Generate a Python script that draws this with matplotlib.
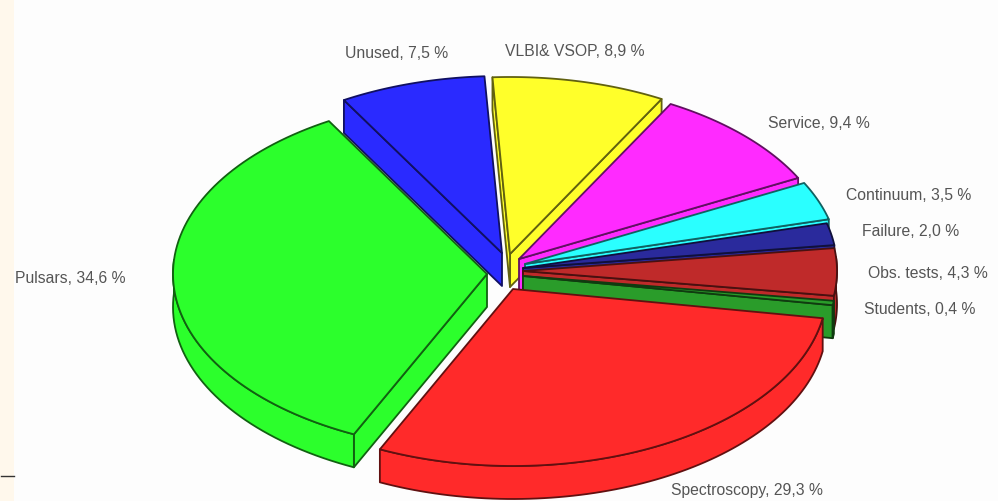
import numpy as np
import matplotlib
matplotlib.use("Agg")
import matplotlib.pyplot as plt
from matplotlib.patches import Polygon
from matplotlib.colors import to_rgb

labels = ["Spectroscopy", "Pulsars", "Unused", "VLBI& VSOP", "Service",
          "Continuum", "Failure", "Obs. tests", "Students"]
values = [29.3, 34.6, 7.5, 8.9, 9.4, 3.5, 2.0, 4.3, 0.4]
value_text = ["29,3", "34,6", "7,5", "8,9", "9,4", "3,5", "2,0", "4,3", "0,4"]
colors = ["#ff2a2a", "#2cff2c", "#2a2aff", "#ffff2a", "#ff2aff",
          "#2affff", "#2a2a9c", "#bf2a2a", "#2a9c2a"]

# slice apex in pixels, the exploded look of the original is not very regular
apex_x = [513, 487, 502, 510, 519, 525, 523, 523, 523]
apex_y = [290, 275, 254, 255, 260, 265, 269, 272, 277]
label_x = [671, 15, 345, 505, 768, 846, 862, 868, 864]
label_y = [491, 279, 53, 51, 123, 196, 232, 274, 310]

start_angle = -9.5
rx, ry = 314, 177
depth = 33
draw_order = [2, 3, 4, 5, 6, 7, 8, 1, 0]


def edge_of(color):
    return tuple(c * 0.38 for c in to_rgb(color))


def arc(cx, cy, a0, a1):
    t = np.radians(np.linspace(a0, a1, 80))
    return np.column_stack([cx + rx * np.cos(t), cy - ry * np.sin(t)])


def draw_slice(ax, cx, cy, a0, a1, color):
    edge = edge_of(color)
    style = dict(facecolor=color, edgecolor=edge, linewidth=1.3, joinstyle="round")
    top = arc(cx, cy, a0, a1)
    low = top + [0, depth]
    # radial walls first, only those turned to the viewer
    if np.cos(np.radians(a0)) > 0:
        p = top[0]
        ax.add_patch(Polygon([[cx, cy], p, p + [0, depth], [cx, cy + depth]], closed=True, **style))
    if np.cos(np.radians(a1)) < 0:
        p = top[-1]
        ax.add_patch(Polygon([[cx, cy], p, p + [0, depth], [cx, cy + depth]], closed=True, **style))
    # only the part of the rim facing down is visible
    ts = np.linspace(a0, a1, 80)
    mask = np.sin(np.radians(ts)) <= 0.08
    if mask.any():
        rim = np.vstack([top[mask], low[mask][::-1]])
        ax.add_patch(Polygon(rim, closed=True, **style))
    face = np.vstack([[cx, cy], top])
    ax.add_patch(Polygon(face, closed=True, **style))


fig = plt.figure(figsize=(9.98, 5.02), dpi=100, facecolor="#fdfdfd")
ax = fig.add_axes([0, 0, 1, 1])
ax.set_xlim(0, 998)
ax.set_ylim(502, 0)
ax.axis("off")

# cream strip on the left and the stray arrow bit from the screenshot
ax.axvspan(0, 14, color="#fff8ec", lw=0)
ax.plot([1, 14], [477, 477], color="#333333", lw=1)

shares = np.array(values) / sum(values) * 360
ends = start_angle - np.cumsum(shares)
starts = np.concatenate([[start_angle], ends[:-1]])

for i in draw_order:
    draw_slice(ax, apex_x[i], apex_y[i], ends[i], starts[i], colors[i])

for i in range(len(labels)):
    ax.text(label_x[i], label_y[i], f"{labels[i]}, {value_text[i]} %",
            family="Liberation Sans", fontsize=11.3, color="#555555",
            ha="left", va="center")

fig.savefig("out.png", dpi=100, facecolor=fig.get_facecolor())
